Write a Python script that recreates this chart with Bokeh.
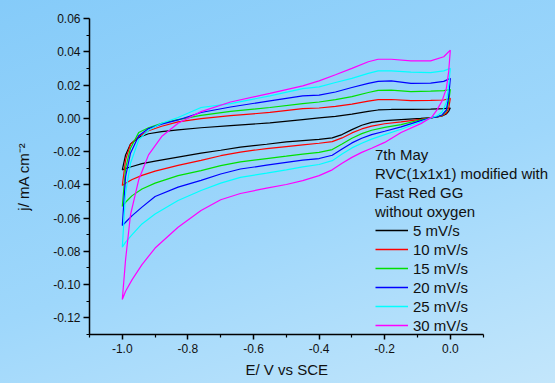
from bokeh.plotting import figure
from bokeh.models import FixedTicker, PrintfTickFormatter, Legend, LegendItem, Range1d, Title
from bokeh.embed import file_html
from bokeh.resources import INLINE

# Potential grids (V vs SCE) for the return (upper) and forward (lower) sweeps
E_up = [-1.0, -0.99, -0.975, -0.95, -0.92, -0.88, -0.83, -0.76, -0.67, -0.55, -0.45,
        -0.4, -0.35, -0.3, -0.25, -0.22, -0.18, -0.12, -0.06, -0.02, 0.0]
E_dn = [0.0, -0.005, -0.012, -0.025, -0.04, -0.056, -0.09, -0.15, -0.2, -0.24, -0.27, -0.3,
        -0.33, -0.36, -0.4, -0.45, -0.5, -0.56, -0.64, -0.7, -0.76, -0.83, -0.9, -0.94,
        -0.97, -0.99, -1.0]

# current density j / mA cm-2
j_up_5 = [-0.031, -0.022, -0.0155, -0.0115, -0.0093, -0.008, -0.007, -0.0057, -0.0044, -0.0028, -0.0008,
          0.0002, 0.0012, 0.0025, 0.0042, 0.005, 0.0053, 0.0053, 0.0055, 0.0058, 0.0062]
j_dn_5 = [0.0062, 0.0042, 0.0026, 0.0014, 0.0008, 0.0004, -0.0001, -0.0008, -0.0014, -0.0025, -0.0042,
          -0.0068, -0.0098, -0.0118, -0.0127, -0.0134, -0.0142, -0.0156, -0.0173, -0.0192, -0.0209,
          -0.0233, -0.0258, -0.0273, -0.029, -0.0302, -0.031]

j_up_10 = [-0.0404, -0.025, -0.0155, -0.011, -0.0075, -0.0048, -0.0022, -0.0002, 0.0016, 0.0035, 0.0058,
           0.0062, 0.0072, 0.0085, 0.0103, 0.0112, 0.0113, 0.0106, 0.0108, 0.011, 0.012]
j_dn_10 = [0.012, 0.006, 0.0032, 0.0015, 0.0008, 0.0004, -0.0006, -0.0022, -0.0033, -0.0047, -0.0064,
           -0.0088, -0.0118, -0.014, -0.015, -0.016, -0.017, -0.0182, -0.0203, -0.0225, -0.0253,
           -0.0283, -0.0318, -0.0343, -0.0368, -0.039, -0.0404]

j_up_15 = [-0.053, -0.03, -0.018, -0.0085, -0.0057, -0.003, -0.0008, 0.0018, 0.0042, 0.0065, 0.0088,
           0.0098, 0.0112, 0.013, 0.0155, 0.0168, 0.0169, 0.016, 0.0163, 0.0166, 0.0173]
j_dn_15 = [0.0173, 0.0098, 0.0045, 0.0018, 0.0008, 0.0004, -0.0009, -0.0038, -0.0055, -0.0072, -0.0092,
           -0.012, -0.0155, -0.0188, -0.0205, -0.0215, -0.0228, -0.0242, -0.0262, -0.0285, -0.0315,
           -0.0345, -0.039, -0.0425, -0.0465, -0.0505, -0.053]

j_up_20 = [-0.0645, -0.035, -0.021, -0.0105, -0.0062, -0.0035, -0.001, 0.0035, 0.0068, 0.0105, 0.0135,
           0.0139, 0.0158, 0.0185, 0.021, 0.0222, 0.0225, 0.021, 0.0212, 0.0222, 0.024]
j_dn_20 = [0.024, 0.0128, 0.005, 0.002, 0.0009, 0.0004, -0.0014, -0.0052, -0.0078, -0.0098, -0.012,
           -0.0148, -0.0185, -0.0222, -0.0242, -0.0252, -0.0265, -0.0282, -0.0305, -0.0335, -0.0373,
           -0.0414, -0.047, -0.0534, -0.0585, -0.0625, -0.0645]

j_up_25 = [-0.0775, -0.045, -0.027, -0.013, -0.0072, -0.003, 0.0005, 0.0065, 0.0088, 0.0135, 0.0178,
           0.0189, 0.0215, 0.024, 0.027, 0.0285, 0.0285, 0.0278, 0.0275, 0.0285, 0.030]
j_dn_25 = [0.030, 0.020, 0.0095, 0.0038, 0.0015, 0.0005, -0.0022, -0.0066, -0.0098, -0.0125, -0.015,
           -0.0178, -0.0215, -0.0255, -0.0278, -0.0292, -0.031, -0.033, -0.0355, -0.039, -0.0434,
           -0.0494, -0.0575, -0.0635, -0.07, -0.0745, -0.0775]

j_up_30 = [-0.109, -0.085, -0.058, -0.037, -0.022, -0.011, -0.003, 0.004, 0.0098, 0.015, 0.0195,
           0.0225, 0.0262, 0.030, 0.034, 0.0355, 0.0355, 0.0345, 0.0345, 0.037, 0.041]
j_dn_30 = [0.041, 0.028, 0.018, 0.0105, 0.0052, 0.0008, -0.0032, -0.0085, -0.0145, -0.018, -0.0205,
           -0.0235, -0.027, -0.031, -0.0345, -0.0375, -0.0398, -0.042, -0.0452, -0.049, -0.0554,
           -0.0655, -0.078, -0.088, -0.097, -0.104, -0.109]

rates = ["5 mV/s", "10 mV/s", "15 mV/s", "20 mV/s", "25 mV/s", "30 mV/s"]
ups = [j_up_5, j_up_10, j_up_15, j_up_20, j_up_25, j_up_30]
dns = [j_dn_5, j_dn_10, j_dn_15, j_dn_20, j_dn_25, j_dn_30]
colors = ["#000000", "#FF0000", "#00E000", "#0000FF", "#00FFFF", "#FF00FF"]

header = ["7th May", "RVC(1x1x1) modified with", "Fast Red GG", "without oxygen"]
x_ticks = [-1.0, -0.8, -0.6, -0.4, -0.2, 0.0]
x_minor = [-1.1, -0.9, -0.7, -0.5, -0.3, -0.1, 0.1]
y_ticks = [-0.12, -0.10, -0.08, -0.06, -0.04, -0.02, 0.0, 0.02, 0.04, 0.06]
y_minor = [-0.13, -0.11, -0.09, -0.07, -0.05, -0.03, -0.01, 0.01, 0.03, 0.05]

FONT = "Liberation Sans"
TXT = "#111111"

# frame spans to the right edge so the legend block is not clipped;
# the x axis itself is bounded to -1.1 .. 0.1 as in the reference
p = figure(width=555, height=383, output_backend="svg", toolbar_location=None,
           x_range=Range1d(-1.1, 0.3207), y_range=Range1d(-0.13, 0.06),
           min_border_left=89, min_border_right=0, min_border_top=18, min_border_bottom=49,
           y_axis_label="j/ mA cm\u207b\u00b2")
p.border_fill_color = None
p.background_fill_color = None
p.outline_line_color = None
p.styles = {"background": "linear-gradient(160deg, #85CBF9 0%, #9ED7FB 55%, #C3E6FB 100%)"}
p.xgrid.visible = False
p.ygrid.visible = False

items = []
for name, ju, jd, c in zip(rates, ups, dns, colors):
    p.line(E_up + E_dn, ju + jd, line_color=c, line_width=1.2)
    # legend sample: a one-point line of the same series (draws nothing in the plot)
    proxy = p.line(x=E_up[:1], y=ju[:1], line_color=c, line_width=1.3)
    items.append(LegendItem(label=name, renderers=[proxy]))

for ax in (p.xaxis[0], p.yaxis[0]):
    ax.axis_line_color = "black"
    ax.axis_line_width = 1.5
    ax.major_tick_line_color = "black"
    ax.minor_tick_line_color = "black"
    ax.major_tick_line_width = 1.5
    ax.minor_tick_line_width = 1.2
    ax.major_tick_in = 0
    ax.minor_tick_in = 0
    ax.major_label_text_font = FONT
    ax.major_label_text_font_size = "12px"
    ax.major_label_text_color = TXT
    ax.axis_label_text_font = FONT
    ax.axis_label_text_font_size = "15px"
    ax.axis_label_text_font_style = "normal"
    ax.axis_label_text_color = TXT

p.xaxis[0].bounds = (-1.1, 0.1)
p.xaxis[0].ticker = FixedTicker(ticks=x_ticks, minor_ticks=x_minor)
p.xaxis[0].formatter = PrintfTickFormatter(format="%.1f")
p.xaxis[0].major_tick_out = 5
p.xaxis[0].minor_tick_out = 3
p.xaxis[0].major_label_standoff = 4

p.yaxis[0].ticker = FixedTicker(ticks=y_ticks, minor_ticks=y_minor)
p.yaxis[0].formatter = PrintfTickFormatter(format="%.2f")
p.yaxis[0].major_tick_out = 6
p.yaxis[0].minor_tick_out = 3
p.yaxis[0].major_label_standoff = 3
p.yaxis[0].axis_label_standoff = 18

# x-axis title, centred under the bounded axis (not the wider frame)
xt = Title(text="E/ V vs SCE", align="left", offset=156, standoff=7,
           text_font=FONT, text_font_size="15px", text_font_style="normal", text_color=TXT)
p.add_layout(xt, "below")

# header block of the legend: text-only items (empty, invisible renderers)
head_items = []
for t in header:
    hr = p.line(x=[], y=[], line_alpha=0)
    head_items.append(LegendItem(label=t, renderers=[hr]))
head = Legend(items=head_items, location=(286, 114), orientation="vertical",
              label_text_font=FONT, label_text_font_size="15px", label_text_color=TXT,
              glyph_width=0, glyph_height=18, label_height=18, spacing=1, label_standoff=0,
              padding=0, margin=0, border_line_alpha=0, background_fill_alpha=0)
p.add_layout(head)

legend = Legend(items=items, location=(286, 0), orientation="vertical",
                label_text_font=FONT, label_text_font_size="15px", label_text_color=TXT,
                glyph_width=33, glyph_height=18, label_height=18, spacing=1, label_standoff=5,
                padding=0, margin=0, border_line_alpha=0, background_fill_alpha=0)
p.add_layout(legend)

open("out.html", "w").write(file_html(p, INLINE))
